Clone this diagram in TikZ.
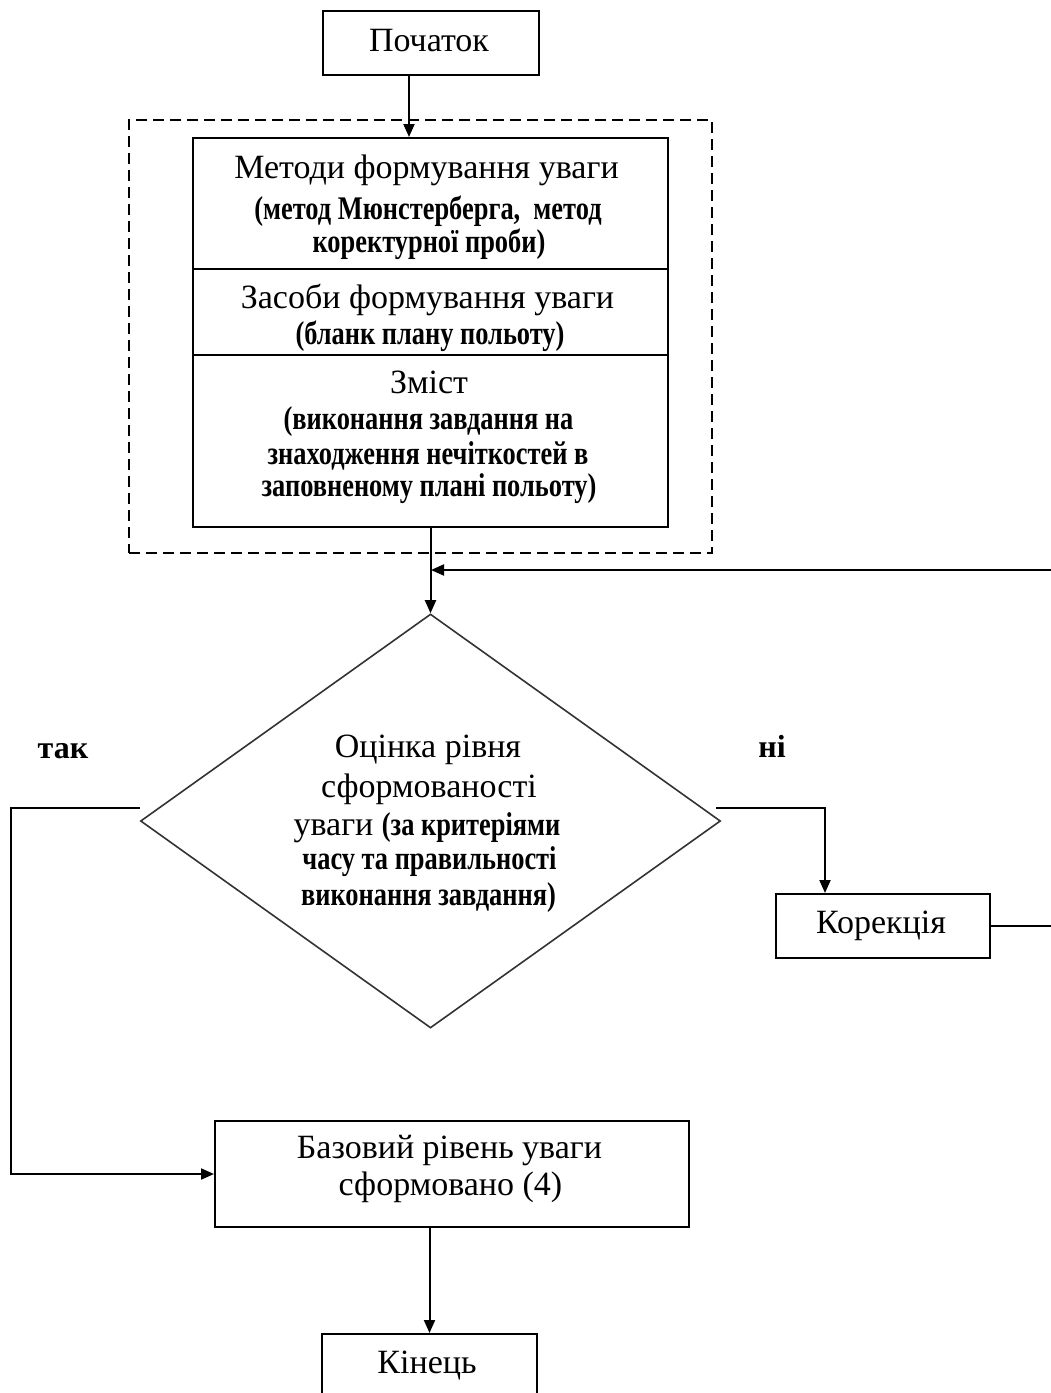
\documentclass[tikz,border=0pt]{standalone}
\usepackage{fontspec}
\setmainfont{Liberation Serif}
\newfontfamily\condfont[FakeStretch=0.8]{Liberation Serif}
\usetikzlibrary{arrows.meta,shapes.geometric}
\newcommand\mainfs{\fontsize{34}{40}\selectfont}
\newcommand\subfs{\condfont\bfseries\fontsize{33}{40}\selectfont}
\newcommand\lblfs{\bfseries\fontsize{32}{40}\selectfont}
\tikzset{
  box/.style={draw, rectangle, line width=2pt, inner sep=0pt},
  grpbox/.style={draw, rectangle, line width=2.6pt, dash pattern=on 11pt off 6pt, inner sep=0pt},
  decision/.style={draw=black!80, diamond, line width=1.6pt, inner sep=0pt},
  txt/.style={anchor=base, inner sep=0pt, font=\mainfs},
  subt/.style={anchor=base, inner sep=0pt, font=\subfs},
  lbl/.style={anchor=base, inner sep=0pt, font=\lblfs},
  arr/.style={line width=2pt, -{Triangle[length=13pt,width=11pt]}},
}
\begin{document}
\begin{tikzpicture}[x=1pt,y=-1pt]
\useasboundingbox (0,0) rectangle (1051,1393);
\clip (0,0) rectangle (1051,1393);
\fill[white] (0,0) rectangle (1051,1393);

% boxes
\node[box, minimum width=216pt, minimum height=64pt] (start) at (431,43) {};
\node[grpbox, minimum width=583pt, minimum height=433pt] (grp) at (420.5,336.5) {};
\node[box, minimum width=475pt, minimum height=131pt] (m1) at (430.5,203.5) {};
\node[box, minimum width=475pt, minimum height=86pt] (m2) at (430.5,312) {};
\node[box, minimum width=475pt, minimum height=172pt] (m3) at (430.5,441) {};
\node[decision, minimum width=580pt, minimum height=414pt] (dia) at (430.5,821) {};
\node[box, minimum width=214pt, minimum height=64pt] (korr) at (883,926) {};
\node[box, minimum width=474pt, minimum height=106pt] (base) at (452,1174) {};
\node[box, minimum width=215pt, minimum height=70pt] (end) at (429.5,1369) {};

% texts
\node[txt] (tstart) at (429,51) {Початок};
\node[txt] (t1a) at (426.5,178) {Методи формування уваги};
\node[subt] (t1b) at (428,219) {(метод Мюнстерберга,\ \ метод};
\node[subt] (t1c) at (429,252) {коректурної проби)};
\node[txt] (t2a) at (427.5,308) {Засоби формування уваги};
\node[subt] (t2b) at (430,344) {(бланк плану польоту)};
\node[txt] (t3a) at (429,393) {Зміст};
\node[subt] (t3b) at (428.5,429) {(виконання завдання на};
\node[subt] (t3c) at (428,464) {знаходження нечіткостей в};
\node[subt] (t3d) at (429,496) {заповненому плані польоту)};
\node[txt] (td1) at (428,757) {Оцінка рівня};
\node[txt] (td2) at (429,797) {сформованості};
\node[txt] (td3) at (427,835) {уваги {\subfs(за критеріями}};
\node[subt] (td4) at (429.5,869) {часу та правильності};
\node[subt] (td5) at (428.5,905) {виконання завдання)};
\node[lbl] (yes) at (63,758) {так};
\node[lbl] (no) at (772,757) {ні};
\node[txt] (tkorr) at (881,933) {Корекція};
\node[txt] (tb1) at (449.5,1158) {Базовий рівень уваги};
\node[txt] (tb2) at (450.5,1195) {сформовано (4)};
\node[txt] (tend) at (427,1373) {Кінець};

% connectors
\coordinate (fb) at (431,570);
\draw[arr] ([xshift=-22pt]start.south) -- ([xshift=-22pt]start.south |- m1.north);
\draw[arr] (m3.south) -- (m3.south |- dia.north);
\draw[arr] (korr.east) -- ++(90,0) |- (fb);
\draw[arr] ([yshift=13pt,xshift=-5pt]dia.east) -| ([xshift=-58pt]korr.north);
\draw[arr] ([yshift=13pt]dia.west) -- ++(-129,0) |- (base.west);
\draw[arr] (base.south -| end.north) -- (end.north);
\end{tikzpicture}
\end{document}
